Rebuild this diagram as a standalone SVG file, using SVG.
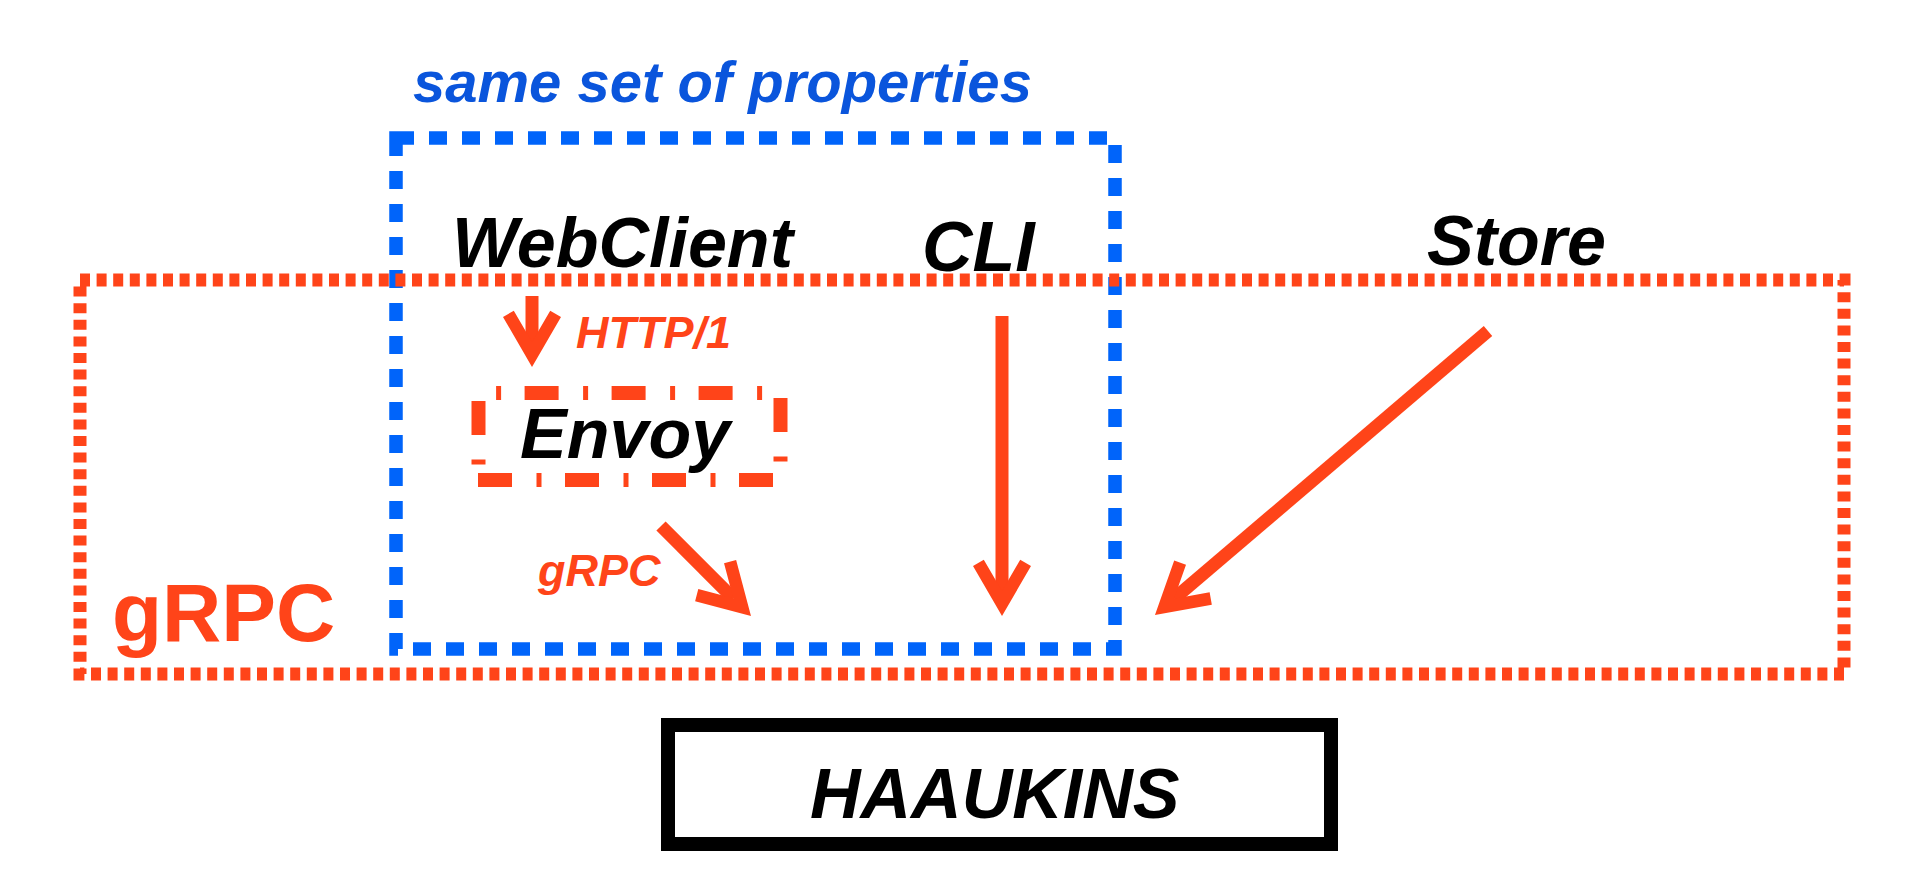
<svg xmlns="http://www.w3.org/2000/svg" width="1906" height="878" viewBox="0 0 1906 878">
<style>
.lbl{font-family:"Liberation Sans",Arial,Helvetica,sans-serif;font-weight:bold;font-style:italic}
.big{font-size:70px;fill:#000}
.or{fill:#FF4419}
.conn{stroke:#FF4419;stroke-width:13;fill:none;marker-end:url(#head)}
.envoy{stroke:#FF4419;stroke-width:14;fill:none;stroke-dasharray:34 24.5 5 23.5}
</style>
<defs>
<marker id="head" markerUnits="userSpaceOnUse" orient="auto" refX="-25" refY="0" markerWidth="60" markerHeight="60" overflow="visible">
<path d="M0,0 L-50,-29 L-56.3,-18.2 L-25,0 L-56.3,18.2 L-50,29 Z" fill="#FF4419"/>
</marker>
</defs>
<rect width="1906" height="878" fill="#fff"/>
<g id="same-set-of-properties">
<rect x="396" y="138" width="719" height="511" fill="none" stroke="#0064FA" stroke-width="13.5" stroke-dasharray="18 15"/>
<text class="lbl" x="413" y="102" font-size="58" fill="#0A55DC">same set of properties</text>
</g>
<g id="grpc-zone">
<rect x="80" y="280" width="1764" height="394" fill="none" stroke="#FF4419" stroke-width="13" stroke-dasharray="10 6.6"/>
<text x="112" y="641" font-family="'Liberation Sans',Arial,Helvetica,sans-serif" font-weight="bold" font-size="82" class="or">gRPC</text>
</g>
<g id="webclient"><text class="lbl big" x="452" y="267">WebClient</text></g>
<g id="cli"><text class="lbl big" x="922" y="271">CLI</text></g>
<g id="store"><text class="lbl big" x="1427" y="265">Store</text></g>
<g id="envoy">
<line class="envoy" x1="478" y1="393" x2="780" y2="393" stroke-dashoffset="40.4"/>
<line class="envoy" x1="478" y1="480" x2="780" y2="480"/>
<line class="envoy" x1="478.5" y1="393" x2="478.5" y2="480" stroke-dashoffset="79"/>
<line class="envoy" x1="780.5" y1="393" x2="780.5" y2="480" stroke-dashoffset="82"/>
<text class="lbl big" x="520" y="458">Envoy</text>
</g>
<g id="haaukins">
<rect x="668" y="725" width="663" height="119" fill="none" stroke="#000" stroke-width="14"/>
<text class="lbl big" x="810" y="818">HAAUKINS</text>
</g>
<g id="connectors">
<line class="conn" x1="532" y1="296" x2="532" y2="342"/>
<text class="lbl or" x="576" y="348" font-size="45">HTTP/1</text>
<line class="conn" x1="661" y1="526" x2="733.3" y2="598.3"/>
<text class="lbl or" x="538" y="586" font-size="45">gRPC</text>
<line class="conn" x1="1002" y1="316" x2="1002" y2="591"/>
<line class="conn" x1="1488" y1="331" x2="1174" y2="598.8"/>
</g>
</svg>
